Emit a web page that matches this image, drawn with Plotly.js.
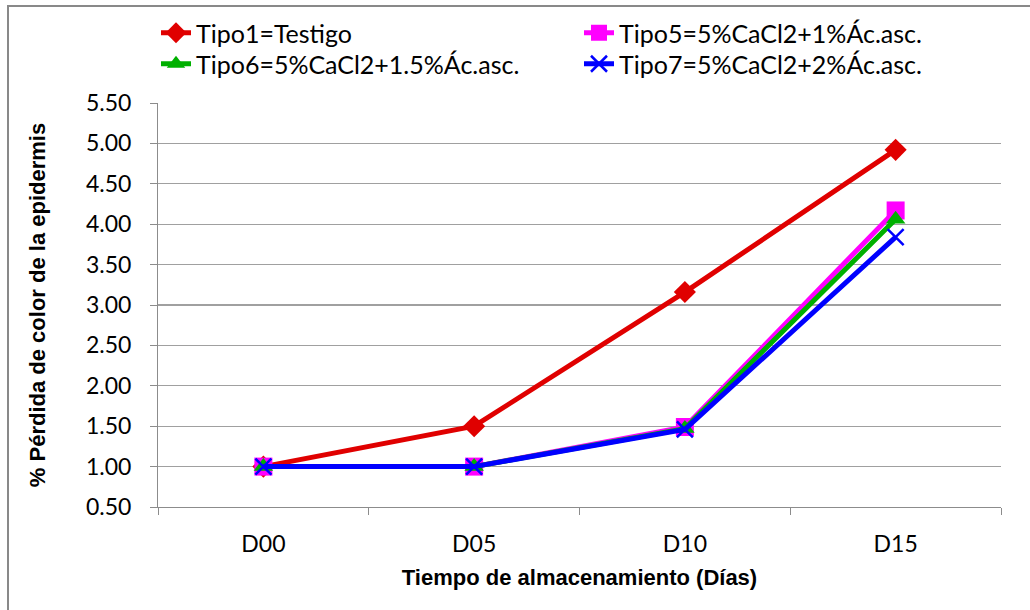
<!DOCTYPE html>
<html>
<head>
<meta charset="utf-8">
<script src="https://cdn.plot.ly/plotly-3.0.1.min.js"></script>
<style>
html,body{margin:0;padding:0;background:#fff;}
#chart{width:1030px;height:610px;}
</style>
</head>
<body>
<div id="chart"></div>
<script>
const categories = ["D00", "D05", "D10", "D15"];
const tipo1 = [1.00, 1.50, 3.16, 4.92];
const tipo5 = [1.00, 1.00, 1.49, 4.17];
const tipo6 = [1.00, 1.00, 1.47, 4.06];
const tipo7 = [1.00, 1.00, 1.46, 3.84];
const seriesNames = ["Tipo1=Testigo", "Tipo5=5%CaCl2+1%Ác.asc.", "Tipo6=5%CaCl2+1.5%Ác.asc.", "Tipo7=5%CaCl2+2%Ác.asc."];
const yTicks = [0.5, 1.0, 1.5, 2.0, 2.5, 3.0, 3.5, 4.0, 4.5, 5.0, 5.5];

const W = 1030, H = 610;
const m = {l: 158, r: 29, t: 103, b: 103, autoexpand: false};
const pw = W - m.l - m.r, ph = H - m.t - m.b;
const px = v => (v - m.l) / pw;
const py = v => (H - m.b - v) / ph;

function tr(y, name, color, symbol, size, lw, legendRef) {
  return {
    x: categories, y: y, name: name, type: "scatter", mode: "lines+markers",
    legend: legendRef,
    line: {color: color, width: 5},
    marker: {symbol: symbol, size: size, color: color, line: {width: lw || 0, color: color}}
  };
}

const data = [
  tr(tipo1, seriesNames[0], "#E00000", "diamond", 17, 0, "legend"),
  tr(tipo5, seriesNames[1], "#FF00FF", "square", 18, 0, "legend"),
  tr(tipo6, seriesNames[2], "#00B000", "triangle-up", 17, 0, "legend2"),
  tr(tipo7, seriesNames[3], "#0000FF", "x-thin", 16, 2.5, "legend2")
];

const titleFont = {family: "'Liberation Sans', Arial, sans-serif", size: 22, color: "#000", weight: "bold"};
const tickFont = {family: "Lato, sans-serif", size: 23, color: "#000"};
const legendFont = {family: "Lato, sans-serif", size: 25, color: "#000"};

function legendAt(topPx) {
  return {
    orientation: "h", x: px(156), y: py(topPx), xanchor: "left", yanchor: "top",
    entrywidth: 378, entrywidthmode: "pixels",
    font: legendFont, tracegroupgap: 0, itemwidth: 30, bgcolor: "rgba(0,0,0,0)"
  };
}

const layout = {
  width: W, height: H,
  margin: m,
  paper_bgcolor: "#fff", plot_bgcolor: "#fff",
  font: {family: "Lato, 'Open Sans', sans-serif", size: 20, color: "#000"},
  showlegend: true,
  legend: legendAt(10),
  legend2: legendAt(41),
  xaxis: {
    type: "category", range: [-0.5, 3.5],
    showline: true, linecolor: "#8c8c8c", linewidth: 1,
    ticks: "outside", tickson: "boundaries", ticklen: 7, tickcolor: "#8c8c8c",
    ticklabelstandoff: 16,
    showgrid: false, zeroline: false,
    tickfont: tickFont,
    title: {text: "Tiempo de almacenamiento (Días)", standoff: 14, font: titleFont}
  },
  yaxis: {
    range: [0.5, 5.5], tickvals: yTicks, ticktext: yTicks.map(v => v.toFixed(2)),
    showline: true, linecolor: "#8c8c8c", linewidth: 1,
    ticks: "outside", ticklen: 7, tickcolor: "#8c8c8c",
    ticklabelstandoff: 14,
    showgrid: true, gridcolor: "#a0a0a0", gridwidth: 1.3, zeroline: false,
    tickfont: tickFont,
    title: {text: "% Pérdida de color de la epidermis", standoff: 34, font: titleFont}
  },
  shapes: [
    {type: "line", xref: "paper", yref: "paper", x0: px(7), x1: px(1032), y0: py(6), y1: py(6), line: {color: "#898989", width: 2}},
    {type: "line", xref: "paper", yref: "paper", x0: px(8), x1: px(8), y0: py(5), y1: py(612), line: {color: "#898989", width: 2}}
  ]
};

Plotly.newPlot("chart", data, layout, {displayModeBar: false, staticPlot: true});
</script>
</body>
</html>
